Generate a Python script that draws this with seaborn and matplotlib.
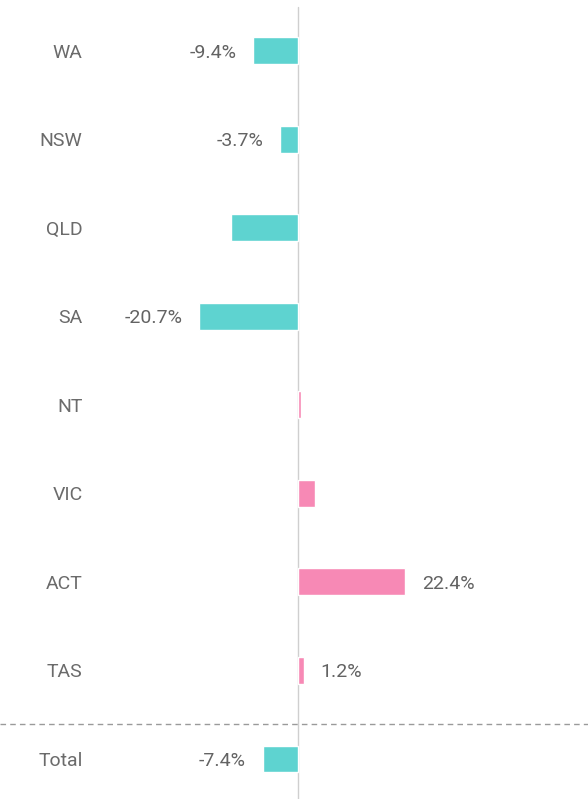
import matplotlib
matplotlib.use('Agg')
import matplotlib.pyplot as plt
import seaborn as sns
import pandas as pd

states = ['WA', 'NSW', 'QLD', 'SA', 'NT', 'VIC', 'ACT', 'TAS', 'Total']
change = [-9.4, -3.7, -14.1, -20.7, 0.6, 3.5, 22.4, 1.2, -7.4]
shown = ['-9.4%', '-3.7%', '', '-20.7%', '', '', '22.4%', '1.2%', '-7.4%']

neg_color = '#5ed3d0'
pos_color = '#f789b5'

sns.set_theme(style='white')
plt.rcParams['font.family'] = ['Roboto', 'DejaVu Sans']

df = pd.DataFrame({'state': states, 'change': change})
colors = [neg_color if v < 0 else pos_color for v in change]

fig = plt.figure(figsize=(5.88, 7.99), dpi=100)
ax = fig.add_axes([95 / 588, 0, 1 - 95 / 588, 1])

sns.barplot(data=df, x='change', y='state', hue='state', palette=colors,
            dodge=False, legend=False, width=0.305, orient='h',
            saturation=1, ax=ax)

for cont, lab in zip(ax.containers, shown):
    texts = ax.bar_label(cont, labels=[lab], padding=12, fontsize=14,
                         color='#636363')
    for t in texts:
        t.set_va('center_baseline')

ax.axvline(0, color='#cfcfcf', lw=1, ymax=0.991, zorder=0)
# dashed separator above the Total row, across the whole figure
ax.plot([-62.3, 60.7], [7.6, 7.6], color='#9a9a9a', lw=1, ls=(0, (4, 3)), clip_on=False)

ax.set_xlim(-42.47, 60.67)
ax.set_ylim(8.452, -0.576)
ax.set_xlabel('')
ax.set_ylabel('')
ax.set_xticks([])
ax.tick_params(axis='y', length=0, pad=9, labelsize=14, labelcolor='#6b6b6b')
sns.despine(ax=ax, left=True, bottom=True)

fig.savefig('out.png', dpi=100)
